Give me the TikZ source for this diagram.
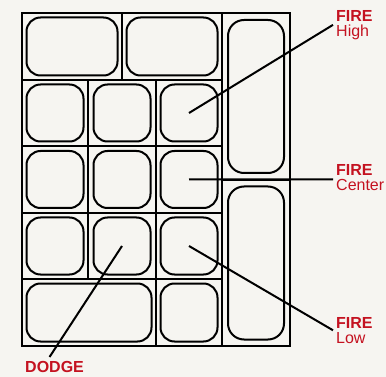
\documentclass[tikz,border=0pt]{standalone}
\usepackage{fontspec}
\setmainfont{Liberation Sans}
\usetikzlibrary{positioning}
\definecolor{firered}{RGB}{196,18,32}
\definecolor{padpaper}{RGB}{246,245,241}

\begin{document}
\begin{tikzpicture}[x=1pt, y=-1pt,
    grid/.style={draw, line width=2.2pt},
    button/.style={draw, rectangle, rounded corners=14pt, line width=2pt, inner sep=0pt},
    pointer/.style={draw, line width=2pt},
    padlabel/.style={text=firered, align=left, inner sep=0pt, anchor=north west, font=\fontsize{16}{15}\selectfont}
]
    \useasboundingbox[fill=padpaper] (0,0) rectangle (386,377);

    % pad frame
    \draw[grid] (22,13) rectangle (290,346);
    \draw[grid] (122,13) -- (122,80) (222,13) -- (222,346) (222,180) -- (290,180)
        (88,80) -- (88,279) (156,80) -- (156,346);
    \foreach \y in {80,146,213,279}
        \draw[grid] (22,\y) -- (222,\y);

    % buttons
    \node[button, minimum width=91pt, minimum height=58pt] (topleft) at (72,46.5) {};
    \node[button, minimum width=91pt, minimum height=58pt] (topright) at (172,46.5) {};
    \node[button, minimum width=56pt, minimum height=153pt, rounded corners=16pt] (sideup) at (256,96.5) {};
    \node[button, minimum width=56pt, minimum height=153pt, rounded corners=16pt] (sidedown) at (256,263) {};
    \foreach \row/\y in {2/113,3/179.5,4/246}
        \foreach \col/\x in {1/55,2/122,3/189}
            \node[button, minimum size=57pt] (b\row\col) at (\x,\y) {};
    \node[button, minimum width=125pt, minimum height=58pt] (bottomleft) at (89,312.5) {};
    \node[button, minimum width=57pt, minimum height=58pt] (bottomright) at (189,312.5) {};

    % labels
    \node[padlabel] (firehigh) at (336,10) {\textbf{FIRE}\\High};
    \node[padlabel] (firecenter) at (336,164) {\textbf{FIRE}\\Center};
    \node[padlabel] (firelow) at (336,317) {\textbf{FIRE}\\Low};
    \node[padlabel, font=\fontsize{16}{15}\selectfont\bfseries] (dodge) at (25,361) {DODGE};

    \draw[pointer] (b23.center) -- ([xshift=-3pt]firehigh.west);
    \draw[pointer] (b33.center) -- ([xshift=-3pt,yshift=-2pt]firecenter.west);
    \draw[pointer] (b43.center) -- ([xshift=-3pt]firelow.west);
    \draw[pointer] (b42.center) -- ([xshift=-5pt,yshift=4pt]dodge.north);
\end{tikzpicture}
\end{document}
